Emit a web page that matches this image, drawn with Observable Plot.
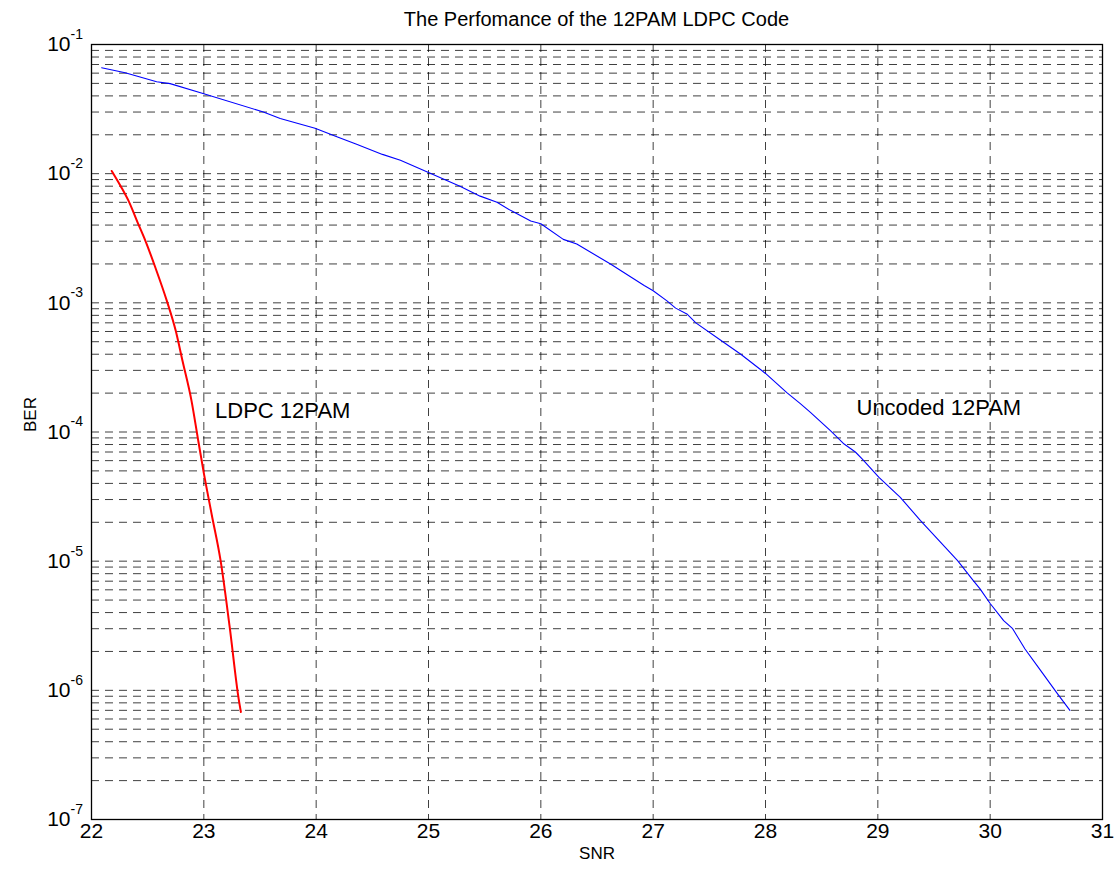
<!DOCTYPE html>
<html>
<head>
<meta charset="utf-8">
<script src="https://cdn.jsdelivr.net/npm/d3@7"></script>
<script src="https://cdn.jsdelivr.net/npm/@observablehq/plot@0.6"></script>
<style>
  body { margin: 0; background: #fff; font-family: "Liberation Sans", Arial, sans-serif; }
  #wrap { position: relative; width: 1119px; height: 875px; }
  #title { position: absolute; left: 91px; width: 1011px; top: 8px; text-align: center; font-size: 20px; line-height: 22px; color: #000; }
</style>
</head>
<body>
<div id="wrap">
  <div id="title">The Perfomance of the 12PAM LDPC Code</div>
  <div id="chart"></div>
</div>
<script>
// Uncoded 12PAM (blue)
const snrUncoded = [22.09, 22.30, 22.58, 22.70, 23.00, 23.53, 23.68, 23.99, 24.19, 24.36, 24.59, 24.75, 25.00, 25.28, 25.46, 25.61, 25.73, 25.91, 26.00, 26.20, 26.32, 26.62, 26.92, 27.00, 27.12, 27.20, 27.30, 27.38, 27.63, 27.78, 28.00, 28.19, 28.31, 28.40, 28.58, 28.70, 28.80, 28.86, 29.01, 29.20, 29.38, 29.71, 29.85, 29.91, 30.00, 30.12, 30.20, 30.31, 30.45, 30.60, 30.71];
const berUncoded = [0.066, 0.0605, 0.0515, 0.0498, 0.0416, 0.030, 0.0267, 0.0225, 0.0192, 0.0169, 0.0141, 0.0127, 0.0102, 0.0080, 0.0067, 0.0060, 0.0052, 0.0043, 0.0041, 0.0031, 0.00285, 0.0020, 0.00136, 0.00124, 0.00104, 0.00091, 0.00082, 0.00070, 0.000493, 0.00040, 0.000284, 0.000202, 0.000166, 0.000142, 0.000102, 0.0000807, 0.000070, 0.000062, 0.0000445, 0.0000312, 0.0000206, 0.0000101, 0.00000706, 0.0000061, 0.0000047, 0.00000347, 0.0000030, 0.00000209, 0.00000142, 0.00000094, 0.00000070];
// LDPC 12PAM (red)
const snrLdpc = [22.18, 22.26, 22.33, 22.41, 22.48, 22.57, 22.67, 22.75, 22.81, 22.89, 22.95, 23.00, 23.07, 23.15, 23.23, 23.31, 23.33];
const berLdpc = [0.0105, 0.0080, 0.00615, 0.0042, 0.00302, 0.00186, 0.00104, 0.000607, 0.000356, 0.000175, 0.000086, 0.000048, 0.000023, 0.00001, 0.0000031, 0.00000086, 0.00000068];
// ticks
const xTicks = [22, 23, 24, 25, 26, 27, 28, 29, 30, 31];
const yTicks = [1e-7, 1e-6, 1e-5, 1e-4, 1e-3, 1e-2, 1e-1];
const yMinorMultipliers = [1, 2, 3, 4, 5, 6, 7, 8, 9];
// annotations
const labels = [
  {snr: 23.10, ber: 1.46e-4, text: "LDPC 12PAM"},
  {snr: 28.81, ber: 1.54e-4, text: "Uncoded 12PAM"}
];
const axisTitles = {x: "SNR", y: "BER"};

const uncoded = snrUncoded.map((s, i) => ({snr: s, ber: berUncoded[i]}));
const ldpc = snrLdpc.map((s, i) => ({snr: s, ber: berLdpc[i]}));
const yGrid = [];
for (const t of yTicks.slice(0, -1)) for (const m of yMinorMultipliers) yGrid.push(t * m);
yGrid.push(1e-1);

const dash = "8,6";
const chart = Plot.plot({
  width: 1119,
  height: 875,
  marginLeft: 91,
  marginRight: 17,
  marginTop: 44,
  marginBottom: 56,
  style: {fontFamily: "'Liberation Sans', Arial, sans-serif", fontSize: "20px", color: "black", background: "white"},
  x: {domain: [22, 31], axis: null},
  y: {type: "log", domain: [1e-7, 1e-1], axis: null},
  marks: [
    Plot.ruleY(yGrid, {y: d => d, stroke: "black", strokeOpacity: 0.75, strokeWidth: 1, strokeDasharray: dash}),
    Plot.ruleX(xTicks, {x: d => d, stroke: "black", strokeOpacity: 0.75, strokeWidth: 1, strokeDasharray: dash}),
    Plot.line(uncoded, {x: "snr", y: "ber", stroke: "#0000ff", strokeWidth: 1.1}),
    Plot.line(ldpc, {x: "snr", y: "ber", stroke: "#ff0000", strokeWidth: 2, curve: "monotone-x"}),
    Plot.frame({stroke: "black", strokeWidth: 1.3}),
    Plot.text(xTicks, {x: d => d, frameAnchor: "bottom", dy: 18, text: d => String(d), fontSize: 21}),
    Plot.text(yTicks, {y: d => d, frameAnchor: "left", dx: -21, textAnchor: "end", text: () => "10", fontSize: 21}),
    Plot.text(yTicks, {y: d => d, frameAnchor: "left", dx: -21, dy: -10, textAnchor: "start", text: d => String(Math.round(Math.log10(d))), fontSize: 14}),
    Plot.text(labels, {x: "snr", y: "ber", text: "text", textAnchor: "start", fontSize: 22}),
    Plot.text([axisTitles.x], {frameAnchor: "bottom", dy: 39, text: d => d, fontSize: 17}),
    Plot.text([axisTitles.y], {frameAnchor: "left", dx: -61, rotate: -90, text: d => d, fontSize: 17})
  ]
});
document.getElementById("chart").appendChild(chart);
</script>
</body>
</html>
